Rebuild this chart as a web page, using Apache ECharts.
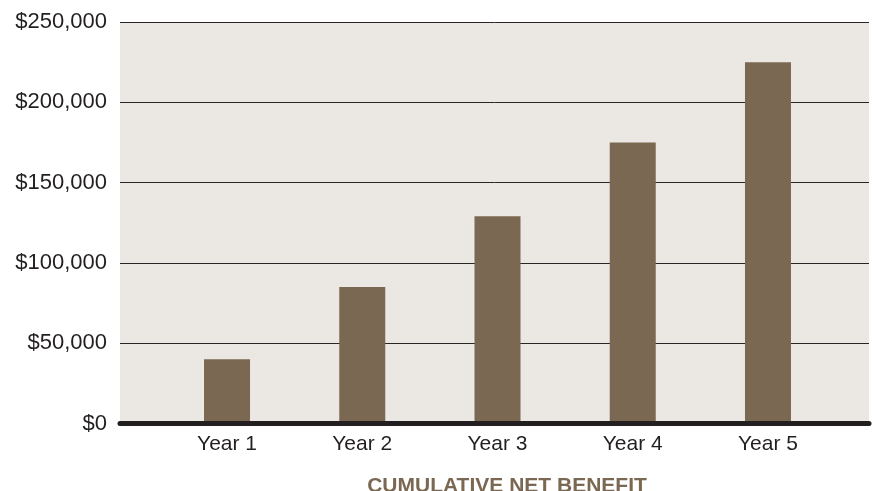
<!DOCTYPE html>
<html>
<head>
<meta charset="utf-8">
<script src="https://cdn.jsdelivr.net/npm/echarts@6/dist/echarts.min.js"></script>
<style>
  html, body { margin: 0; padding: 0; background: #fff; }
  #chart { width: 872px; height: 491px; }
</style>
</head>
<body>
<div id="chart"></div>
<script>
const years = ['Year 1', 'Year 2', 'Year 3', 'Year 4', 'Year 5']
const netBenefit = [40000, 85000, 129000, 175000, 225000]
const yTicks = [0, 50000, 100000, 150000, 200000, 250000]

const textColor = '#231f20'
const barColor = '#7b6852'

const chart = echarts.init(document.getElementById('chart'), null, { renderer: 'canvas' })

const fmtMoney = v => '$' + v.toLocaleString('en-US')

chart.setOption({
  animation: false,
  title: {
    text: 'CUMULATIVE NET BENEFIT',
    left: 502,
    top: 471,
    textAlign: 'center',
    textStyle: {
      fontFamily: 'Liberation Sans',
      fontWeight: 'bold',
      fontSize: 21,
      color: barColor
    }
  },
  grid: [
    // full-width background grid with the y axis and gridlines
    { left: 120, right: 3, top: 22, bottom: 67.4, show: true, backgroundColor: '#ebe8e3', borderWidth: 0 },
    // narrower grid holding the bars so they sit where the original puts them
    { left: 159.4, right: 36.4, top: 22, bottom: 67.4 }
  ],
  xAxis: [
    {
      gridIndex: 0,
      type: 'category',
      data: [''],
      z: 5,
      axisLine: { show: true, lineStyle: { color: textColor, width: 5 } },
      axisTick: { show: false },
      axisLabel: { show: false },
      splitLine: { show: false }
    },
    {
      gridIndex: 1,
      type: 'category',
      data: years,
      axisLine: { show: false },
      axisTick: { show: false },
      axisLabel: {
        margin: 10,
        fontFamily: 'Liberation Sans',
        fontSize: 21,
        color: textColor
      }
    }
  ],
  yAxis: [
    {
      gridIndex: 0,
      type: 'value',
      min: yTicks[0],
      max: yTicks[yTicks.length - 1],
      interval: 50000,
      axisLine: { show: false },
      axisTick: { show: false },
      axisLabel: {
        margin: 13,
        fontFamily: 'Liberation Sans',
        fontSize: 22,
        color: textColor,
        formatter: fmtMoney
      },
      splitLine: { show: true, lineStyle: { color: '#2a2627', width: 1 } }
    },
    {
      gridIndex: 1,
      type: 'value',
      min: yTicks[0],
      max: yTicks[yTicks.length - 1],
      interval: 50000,
      show: false,
      splitLine: { show: false }
    }
  ],
  series: [
    {
      name: 'Cumulative net benefit',
      type: 'bar',
      xAxisIndex: 1,
      yAxisIndex: 1,
      data: netBenefit,
      barWidth: 46,
      itemStyle: { color: barColor }
    }
  ]
})
</script>
</body>
</html>
